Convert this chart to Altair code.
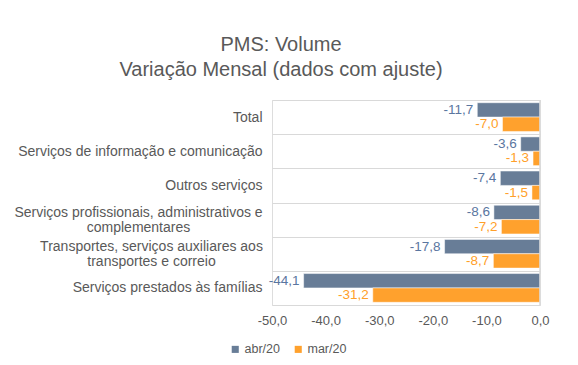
import altair as alt
import pandas as pd

categories = [
    "Total",
    "Serviços de informação e comunicação",
    "Outros serviços",
    "Serviços profissionais, administrativos e|complementares",
    "Transportes, serviços auxiliares aos|transportes e correio",
    "Serviços prestados às famílias",
]
series = ["abr/20", "mar/20"]
abr_values = [-11.7, -3.6, -7.4, -8.6, -17.8, -44.1]
mar_values = [-7.0, -1.3, -1.5, -7.2, -8.7, -31.2]
x_ticks = [-50, -40, -30, -20, -10, 0]

rows = []
for c, a, m in zip(categories, abr_values, mar_values):
    rows.append({"cat": c, "serie": series[0], "valor": a})
    rows.append({"cat": c, "serie": series[1], "valor": m})
df = pd.DataFrame(rows)

bar_colors = ["#687d97", "#ffa12d"]
label_colors = ["#5a76a0", "#ff9f2a"]
txt = "#595959"
font = "Liberation Sans"
fmt_expr = "replace(replace(format({v}, '.1f'), '.', ','), '\u2212', '-')"

multi = "indexof(datum.label, '|') >= 0"

y_enc = alt.Y(
    "cat:N",
    sort=categories,
    title=None,
    scale=alt.Scale(paddingInner=0, paddingOuter=0),
    axis=alt.Axis(
        labelExpr="split(datum.label, '|')",
        labelFontSize=14,
        labelColor=txt,
        labelFont=font,
        labelPadding={
            "condition": [
                {"test": "indexof(datum.label, 'profissionais') >= 0", "value": 134},
                {"test": "indexof(datum.label, 'Transportes') >= 0", "value": 121},
            ],
            "value": 10,
        },
        labelAlign={"condition": {"test": multi, "value": "center"}, "value": "right"},
        labelLineHeight=15,
        labelOffset={"condition": {"test": multi, "value": -7}, "value": 0},
        ticks=False,
        domain=False,
        grid=True,
        gridColor="#d9d9d9",
        gridWidth=1.2,
        tickBand="extent",
        labelLimit=400,
    ),
)
yoff = alt.YOffset(
    "serie:N",
    sort=series,
    scale=alt.Scale(domain=series, paddingOuter=0.19, paddingInner=0),
)
x_enc = alt.X(
    "valor:Q",
    title=None,
    scale=alt.Scale(domain=[-50, 0], nice=False),
    axis=alt.Axis(
        values=x_ticks,
        labelExpr=fmt_expr.format(v="datum.value"),
        labelFontSize=13,
        labelColor=txt,
        labelFont=font,
        labelPadding=9,
        labelFlush=False,
        ticks=False,
        domain=False,
        grid=False,
    ),
)

base = alt.Chart(df)

bars = base.mark_bar(stroke="white", strokeWidth=0.5).encode(
    x=x_enc,
    y=y_enc,
    yOffset=yoff,
    color=alt.Color(
        "serie:N",
        sort=series,
        scale=alt.Scale(domain=series, range=bar_colors),
        legend=alt.Legend(
            title=None,
            orient="none",
            direction="horizontal",
            legendX=-43,
            legendY=243,
            symbolType="square",
            symbolSize=50,
            symbolStrokeWidth=0,
            labelFontSize=12.5,
            labelColor=txt,
            labelFont=font,
            columnPadding=12,
            labelOffset=3,
        ),
    ),
)

labels = base.mark_text(align="right", baseline="middle", dx=-4, fontSize=13.5, font=font).transform_calculate(
    lbl=fmt_expr.format(v="datum.valor")
).encode(
    x="valor:Q",
    y=alt.Y("cat:N", sort=categories),
    yOffset=yoff,
    text="lbl:N",
    color=alt.Color("serie:N", sort=series, scale=alt.Scale(domain=series, range=label_colors), legend=None),
)

zero_rule = alt.Chart(pd.DataFrame({"z": [0]})).mark_rule(color="#d9d9d9", strokeWidth=1.5).encode(
    x="z:Q"
)

chart = (
    alt.layer(bars, labels, zero_rule)
    .resolve_scale(color="independent")
    .properties(
        width=268,
        height=205,
        autosize=alt.AutoSizeParams(type="none"),
        padding={"left": 264, "top": 92, "right": 30, "bottom": 52},
        title=alt.TitleParams(
            text=["PMS: Volume", "Variação Mensal (dados com ajuste)"],
            fontSize=20,
            fontWeight="normal",
            font=font,
            color=txt,
            anchor="middle",
            frame="group",
            dx=-125,
            offset=13,
            lineHeight=25,
        ),
    )
    .configure_view(stroke=None)
    .configure(background="white")
)

chart.save("out.html", embed_options={"renderer": "svg", "actions": False})
